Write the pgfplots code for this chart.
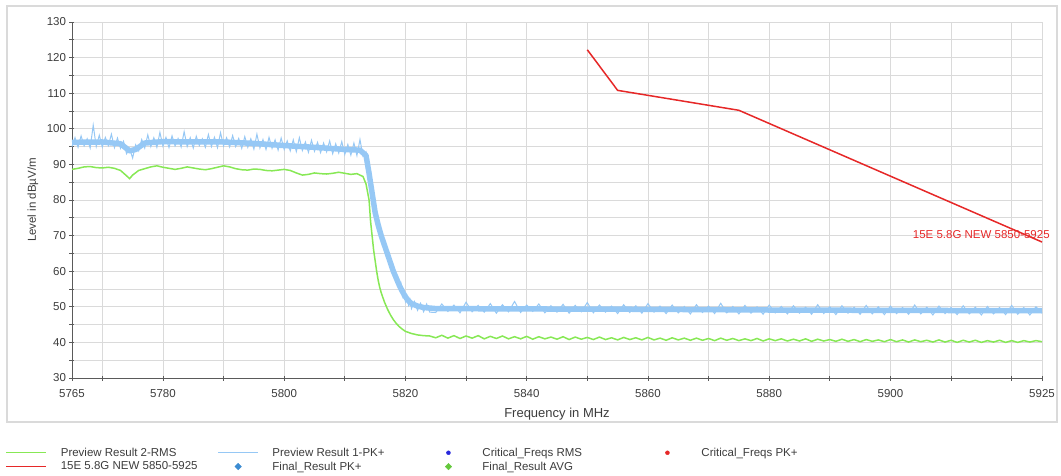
\documentclass[border=0pt]{standalone}
\usepackage{fontspec}
\setmainfont{Liberation Sans}
\usepackage{pgfplots}
\pgfplotsset{compat=1.18}
\definecolor{cgreen}{RGB}{135,232,85}
\definecolor{cblue}{RGB}{150,200,245}
\definecolor{cred}{RGB}{230,40,40}
\definecolor{cgrid}{RGB}{218,218,218}
\definecolor{ctext}{RGB}{60,60,60}
\definecolor{caxis}{RGB}{90,90,90}
\definecolor{cdiablue}{RGB}{60,140,210}
\definecolor{cdiagreen}{RGB}{100,200,60}
\definecolor{cdotblue}{RGB}{40,40,220}
\begin{document}
\begin{tikzpicture}
\useasboundingbox (-72pt,-97pt) rectangle (989pt,378pt);
\draw[cgrid,line width=1.5pt] (-65pt,-44pt) rectangle (985pt,372pt);
\begin{axis}[
  at={(0pt,0pt)}, anchor=south west,
  scale only axis, width=970pt, height=356pt,
  xmin=5765, xmax=5925, ymin=30, ymax=130,
  axis lines*=left,
  axis line style={caxis,line width=0.9pt},
  xtick={5765,5770,5780,5790,5800,5810,5820,5830,5840,5850,5860,5870,5880,5890,5900,5910,5920,5925},
  xticklabels={5765,,5780,,5800,,5820,,5840,,5860,,5880,,5900,,,5925},
  ytick={30,35,...,130},
  yticklabels={30,,40,,50,,60,,70,,80,,90,,100,,110,,120,,130},
  grid=major,
  major grid style={cgrid,line width=0.8pt},
  tick align=center,
  major tick length=5pt,
  tick style={caxis,line width=0.8pt},
  /pgf/number format/assume math mode=true,
  ticklabel style={font=\fontsize{11.5}{13}\selectfont,text=ctext},
  xticklabel style={yshift=-5pt},
  xlabel={Frequency in MHz},
  ylabel={Level in dBµV/m},
  xlabel style={font=\fontsize{13}{15}\selectfont,text=ctext,at={(axis description cs:0.5,-0.101)},anchor=center},
  ylabel style={font=\fontsize{11.5}{13}\selectfont,text=ctext,at={(axis description cs:-0.0402,0.5)},anchor=center},
  clip=false,
  legend columns=4,
  legend cell align=left,
  legend style={at={(axis description cs:-0.072,-0.19)},anchor=north west,draw=none,fill=none,
    font=\fontsize{11.5}{13}\selectfont,text=ctext,
    nodes={inner sep=0pt},
    column sep=0pt, row sep=4pt,
    /tikz/every odd column/.append style={column sep=14pt}},
  legend image code/.code={\path[draw=none,fill=none] (0pt,-3pt) rectangle (40pt,3pt);
    \draw[mark repeat=2,mark phase=2,#1] plot coordinates {(0pt,0pt) (20pt,0pt) (40pt,0pt)};},
]
% Preview Result 1-PK+ (blue): band centre
\addplot[cblue,line width=5.5pt,line join=round,forget plot] table {
5765 96.2
5770 96.3
5773 95.8
5774.5 93.8
5775.5 94.2
5777 96.0
5780 96.4
5785 96.3
5790 96.3
5795 95.9
5800 95.3
5805 94.8
5810 94.2
5812.5 94.0
5813.5 92.5
5814 87.5
5814.5 82.0
5815 76.5
5815.5 73.0
5816 70.0
5816.5 67.5
5817 65.0
5817.5 62.5
5818 60.0
5818.5 58.0
5819 56.0
5819.5 54.3
5820 52.8
5820.5 51.7
5821 50.9
5822 50.2
5823 49.8
5825 49.5
5840 49.4
5860 49.3
5880 49.1
5900 49.0
5925 48.9
};
% Preview Result 1-PK+ (blue): peaks
\addplot[cblue,line width=1pt,forget plot] table {
5765.0 95.0
5765.5 97.5
5766.0 94.8
5766.5 98.0
5767.0 95.2
5767.5 97.2
5768.0 94.6
5768.5 101.0
5769.0 95.0
5769.5 98.2
5770.0 94.9
5770.5 97.6
5771.0 95.3
5771.5 98.5
5772.0 94.7
5772.5 97.4
5773.0 94.5
5773.5 96.5
5774.0 93.0
5774.5 94.5
5775.0 91.8
5775.5 95.5
5776.0 93.8
5776.5 97.0
5777.0 94.6
5777.5 98.3
5778.0 95.0
5778.5 97.5
5779.0 94.8
5779.5 99.0
5780.0 95.1
5780.5 97.6
5781.0 94.7
5781.5 98.0
5782.0 95.2
5782.5 97.3
5783.0 94.9
5783.5 99.2
5784.0 95.0
5784.5 97.5
5785.0 94.6
5785.5 97.9
5786.0 95.3
5786.5 97.2
5787.0 94.8
5787.5 98.4
5788.0 95.0
5788.5 97.6
5789.0 94.7
5789.5 98.9
5790.0 95.2
5790.5 97.5
5791.0 94.9
5791.5 98.1
5792.0 95.0
5792.5 97.3
5793.0 94.5
5793.5 97.8
5794.0 94.8
5794.5 97.2
5795.0 94.3
5795.5 98.5
5796.0 94.6
5796.5 97.0
5797.0 94.2
5797.5 97.6
5798.0 94.5
5798.5 96.9
5799.0 94.0
5799.5 97.4
5800.0 94.2
5800.5 96.6
5801.0 93.8
5801.5 96.9
5802.0 93.6
5802.5 97.5
5803.0 93.9
5803.5 96.3
5804.0 93.4
5804.5 96.8
5805.0 93.7
5805.5 96.2
5806.0 93.3
5806.5 96.0
5807.0 93.5
5807.5 96.6
5808.0 93.0
5808.5 95.8
5809.0 93.2
5809.5 96.4
5810.0 92.8
5810.5 95.6
5811.0 92.6
5811.5 96.0
5812.0 92.5
5812.5 97.0
5813.0 92.3
5813.5 93.5
5813.75 89.5
5814.0 87.0
5814.25 84.0
5814.5 80.5
5814.75 78.5
5815.0 75.5
5815.25 74.5
5815.5 72.0
5815.75 71.5
5816.0 69.0
5816.25 69.5
5816.5 66.5
5816.75 67.0
5817.0 64.0
5817.25 64.5
5817.5 61.5
5817.75 62.5
5818.0 59.0
5818.25 60.0
5818.5 57.0
5818.75 58.0
5819.0 55.0
5819.25 56.5
5819.5 53.0
5819.75 54.5
5820.0 51.5
5820.25 53.0
5820.5 50.5
5820.75 52.0
5821.0 49.5
5821.5 51.5
5822.0 49.0
5822.5 51.0
5823.0 48.6
5823.5 50.8
5824.0 48.5
5825 48.4
5826 50.8
5827 48.7
5828 50.5
5829 48.3
5830 51.3
5831 48.6
5832 50.4
5833 48.5
5834 50.9
5835 48.2
5836 50.6
5837 48.6
5838 51.5
5839 48.4
5840 50.5
5841 48.7
5842 50.8
5843 48.3
5844 50.3
5845 48.5
5846 50.7
5847 48.2
5848 50.4
5849 48.6
5850 51.2
5851 48.3
5852 50.5
5853 48.5
5854 50.2
5855 48.1
5856 50.6
5857 48.4
5858 50.3
5859 48.2
5860 50.9
5861 48.5
5862 50.2
5863 48.1
5864 50.5
5865 48.3
5866 50.1
5867 48.0
5868 50.6
5869 48.4
5870 50.2
5871 48.1
5872 51.0
5873 48.3
5874 50.1
5875 48.0
5876 50.4
5877 48.2
5878 50.0
5879 47.9
5880 50.5
5881 48.3
5882 50.1
5883 48.0
5884 50.3
5885 48.2
5886 49.9
5887 47.9
5888 50.6
5889 48.1
5890 50.0
5891 47.8
5892 50.3
5893 48.2
5894 49.9
5895 47.9
5896 50.4
5897 48.0
5898 50.0
5899 47.8
5900 50.2
5901 48.1
5902 49.8
5903 47.9
5904 50.5
5905 48.0
5906 49.9
5907 47.7
5908 50.2
5909 48.1
5910 49.8
5911 47.8
5912 50.3
5913 48.0
5914 49.9
5915 47.7
5916 50.1
5917 48.0
5918 49.8
5919 47.8
5920 50.4
5921 47.9
5922 49.8
5923 47.7
5924 50.0
5925 48.2
};
% Preview Result 2-RMS (green)
\addplot[cgreen,line width=1.5pt,forget plot] table {
5765 88.6
5766 88.9
5767 89.3
5768 89.4
5769 89.1
5770 89.0
5771 89.2
5772 88.9
5773 88.3
5774 86.8
5774.5 86.0
5775 87.0
5776 88.3
5777 88.8
5778 89.3
5779 89.6
5780 89.2
5781 88.9
5782 88.6
5783 88.9
5784 89.3
5785 89.0
5786 88.7
5787 88.5
5788 88.8
5789 89.2
5790 89.6
5791 89.3
5792 88.8
5793 88.5
5794 88.4
5795 88.7
5796 88.6
5797 88.3
5798 88.2
5799 88.4
5800 88.6
5801 88.3
5802 87.6
5803 87.0
5804 87.2
5805 87.6
5806 87.4
5807 87.3
5808 87.5
5809 87.8
5810 87.5
5811 87.2
5812 87.4
5813 86.6
5813.5 84.5
5814 80.0
5814.25 74.0
5814.5 70.0
5814.75 66.0
5815 63.0
5815.25 60.0
5815.5 57.5
5815.75 55.5
5816 54.0
5816.5 51.5
5817 49.5
5817.5 47.8
5818 46.4
5818.5 45.3
5819 44.4
5819.5 43.7
5820 43.1
5821 42.5
5822 42.1
5823 41.9
5824 41.8
5825 41.3
5826 42.0
5827 41.2
5828 41.9
5829 41.1
5830 41.8
5831 41.2
5832 41.9
5833 41.0
5834 41.7
5835 41.1
5836 41.8
5837 41.0
5838 41.6
5839 41.0
5840 41.7
5841 40.9
5842 41.6
5843 41.0
5844 41.5
5845 40.9
5846 41.6
5847 40.8
5848 41.5
5849 40.9
5850 41.4
5851 40.8
5852 41.5
5853 40.8
5854 41.3
5855 40.7
5856 41.4
5857 40.8
5858 41.3
5859 40.7
5860 41.4
5861 40.7
5862 41.2
5863 40.6
5864 41.3
5865 40.7
5866 41.2
5867 40.6
5868 41.2
5869 40.6
5870 41.1
5871 40.5
5872 41.2
5873 40.6
5874 41.1
5875 40.5
5876 41.0
5877 40.5
5878 41.1
5879 40.4
5880 41.0
5881 40.5
5882 41.0
5883 40.4
5884 40.9
5885 40.4
5886 41.0
5887 40.3
5888 40.9
5889 40.4
5890 40.8
5891 40.3
5892 40.9
5893 40.3
5894 40.8
5895 40.2
5896 40.8
5897 40.3
5898 40.7
5899 40.2
5900 40.8
5901 40.2
5902 40.7
5903 40.1
5904 40.7
5905 40.2
5906 40.6
5907 40.1
5908 40.7
5909 40.1
5910 40.6
5911 40.0
5912 40.6
5913 40.1
5914 40.6
5915 40.0
5916 40.5
5917 40.1
5918 40.6
5919 40.0
5920 40.5
5921 40.0
5922 40.5
5923 40.1
5924 40.5
5925 40.2
};
% Limit line (red)
\addplot[cred,line width=1.5pt,forget plot] table {
5850 122.2
5855 110.8
5875 105.2
5925 68.2
};
\node[anchor=east,text=cred,font=\fontsize{11.5}{13}\selectfont,inner sep=0pt] at (axis cs:5926.3,70.2) {15E 5.8G NEW 5850-5925};
% legend
\addlegendimage{cgreen,line width=0.6pt}
\addlegendentry{\makebox[157pt][l]{Preview Result 2-RMS}}
\addlegendimage{cblue,line width=0.6pt}
\addlegendentry{\makebox[156pt][l]{Preview Result 1-PK+}}
\addlegendimage{only marks,mark=*,mark size=2pt,cdotblue}
\addlegendentry{\makebox[165pt][l]{Critical\_Freqs RMS}}
\addlegendimage{only marks,mark=*,mark size=2pt,cred}
\addlegendentry{\makebox[150pt][l]{Critical\_Freqs PK+}}
\addlegendimage{cred,line width=1.5pt}
\addlegendentry{15E 5.8G NEW 5850-5925}
\addlegendimage{only marks,mark=square*,mark size=2.3pt,mark options={rotate=45,line width=0.4pt},cdiablue}
\addlegendentry{Final\_Result PK+}
\addlegendimage{only marks,mark=square*,mark size=2.3pt,mark options={rotate=45,line width=0.4pt},cdiagreen}
\addlegendentry{Final\_Result AVG}
\end{axis}
\end{tikzpicture}
\end{document}
